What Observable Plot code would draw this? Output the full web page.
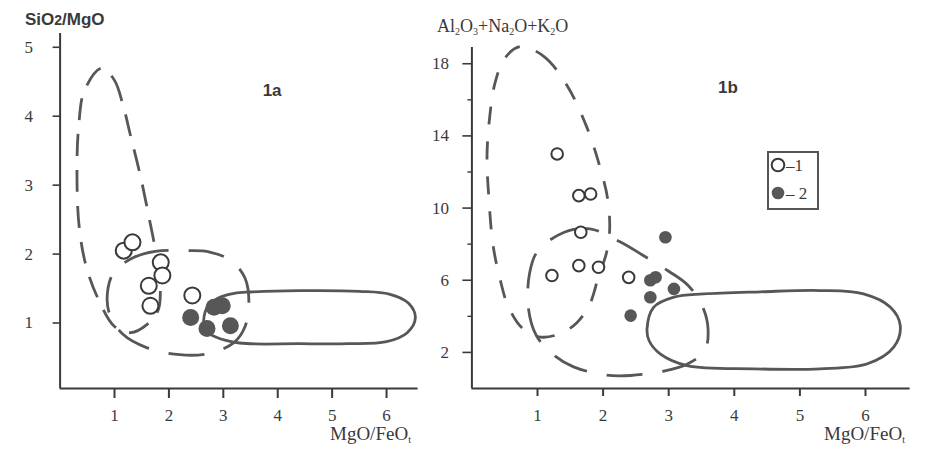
<!DOCTYPE html>
<html>
<head>
<meta charset="utf-8">
<script src="https://cdn.jsdelivr.net/npm/d3@7"></script>
<script src="https://cdn.jsdelivr.net/npm/@observablehq/plot@0.6"></script>
<style>
  html, body { margin: 0; padding: 0; background: #fff; }
  #fig { position: relative; width: 925px; height: 451px; overflow: hidden; background: #fff; }
  #fig > svg { position: absolute; top: 0; }
  #fig svg [aria-label$="tick label"], #fig svg [aria-label$="tick label"] text { font-size: 17px; }
</style>
</head>
<body>
<div id="fig"></div>
<script>
// ---- tick values ----
const xTicks = [1, 2, 3, 4, 5, 6];
const yTicksA = [1, 2, 3, 4, 5];
const yTicksB = [2, 6, 10, 14, 18];
const yMinorB = [4, 8, 12, 16];

// ---- samples, panel 1a: [MgO/FeOt, SiO2/MgO] ----
const group1A = [[1.17, 2.05], [1.33, 2.17], [1.85, 1.88], [1.88, 1.69], [1.63, 1.54], [1.66, 1.25], [2.43, 1.40]];
const group2A = [[2.40, 1.08], [2.83, 1.23], [2.98, 1.25], [2.70, 0.92], [3.13, 0.96]];

// ---- samples, panel 1b: [MgO/FeOt, Al2O3+Na2O+K2O] ----
const group1B = [[1.30, 13.0], [1.63, 10.69], [1.81, 10.78], [1.66, 8.66], [1.63, 6.81], [1.93, 6.72], [1.22, 6.26], [2.39, 6.16]];
const group2B = [[2.95, 8.38], [2.72, 6.00], [2.80, 6.17], [2.72, 5.06], [3.08, 5.52], [2.42, 4.04]];

// ---- composition fields (closed outlines, data units) ----
const tallA = [[0.77, 4.70], [1.00, 4.52], [1.15, 4.18], [1.30, 3.70], [1.48, 3.12], [1.63, 2.55], [1.76, 2.02],
  [1.84, 1.55], [1.80, 1.18], [1.60, 0.98], [1.30, 0.86], [1.00, 0.95], [0.70, 1.35], [0.48, 1.82],
  [0.35, 2.40], [0.31, 3.17], [0.34, 3.84], [0.45, 4.38]];
const midA = [[1.00, 1.75], [1.35, 1.95], [1.75, 2.04], [2.35, 2.05], [2.75, 2.03], [3.15, 1.90], [3.40, 1.65],
  [3.47, 1.28], [3.40, 0.95], [3.20, 0.72], [2.75, 0.56], [2.20, 0.54], [1.60, 0.64], [1.15, 0.84],
  [0.90, 1.15], [0.88, 1.50]];
const solidA = [[2.64, 1.05], [2.72, 1.25], [2.90, 1.36], [3.20, 1.43], [3.50, 1.45], [4.40, 1.47], [5.50, 1.46],
  [6.05, 1.42], [6.40, 1.29], [6.53, 1.08], [6.38, 0.86], [6.00, 0.73], [5.30, 0.70], [4.40, 0.70],
  [3.30, 0.71], [2.85, 0.80], [2.67, 0.90]];

const tallB = [[0.74, 18.95], [1.10, 18.40], [1.45, 16.80], [1.75, 14.50], [1.95, 12.30], [2.07, 10.50], [2.10, 8.80],
  [2.05, 7.50], [1.93, 6.20], [1.80, 4.70], [1.60, 3.65], [1.35, 3.05], [1.05, 2.85], [0.78, 3.30],
  [0.56, 4.50], [0.42, 6.20], [0.32, 8.00], [0.26, 10.50], [0.23, 12.80], [0.27, 15.00], [0.35, 16.90], [0.50, 18.30]];
const midB = [[1.00, 7.60], [1.40, 8.65], [1.80, 8.85], [2.25, 8.15], [2.60, 7.40], [3.00, 6.50], [3.30, 5.70],
  [3.52, 4.50], [3.60, 3.30], [3.55, 2.10], [3.28, 1.35], [2.90, 0.95], [2.42, 0.72], [2.05, 0.74],
  [1.55, 1.20], [1.25, 1.85], [0.98, 2.95], [0.86, 4.50], [0.88, 6.40]];
const solidB = [[2.67, 3.30], [2.77, 4.50], [3.08, 5.06], [3.53, 5.24], [4.40, 5.36], [5.31, 5.43], [5.97, 5.24],
  [6.38, 4.50], [6.53, 3.49], [6.43, 2.29], [6.03, 1.37], [5.31, 1.09], [4.30, 1.09], [3.28, 1.27],
  [2.87, 1.92], [2.70, 2.66]];

const ink = "#3a3a3a";
const fieldInk = "#575757";
const dotFill = "#575757";
const px = d => d[0], py = d => d[1];
const serif = "Liberation Serif, 'Times New Roman', serif";
const sans = "Liberation Sans, Arial, sans-serif";

function panel({width, left, margins, xDomain, yDomain, yTicks, yMinor, tickY, tickX, fields, g1, g2, r, tag, tagPos}) {
  const marks = [
    Plot.ruleX([xDomain[0]], {stroke: ink, strokeWidth: 2}),
    Plot.ruleY([yDomain[0]], {stroke: ink, strokeWidth: 2}),
    Plot.axisY({ticks: yTicks, tickSize: tickY.size, tickPadding: tickY.pad, tickFormat: d => String(d), label: null,
      stroke: ink, fill: ink, strokeWidth: 1.6, fontSize: 17}),
    Plot.axisX({ticks: xTicks, tickSize: tickX.size, tickPadding: tickX.pad, tickFormat: d => String(d), label: null,
      stroke: ink, fill: ink, strokeWidth: 2, fontSize: 17}),
  ];
  if (yMinor) marks.push(Plot.axisY({ticks: yMinor, tickSize: 4, text: null, label: null, stroke: ink, strokeWidth: 1.4}));
  for (const f of fields) {
    marks.push(Plot.line(f.pts, {x: px, y: py, curve: "catmull-rom-closed", stroke: fieldInk,
      strokeWidth: 2.8, strokeDasharray: f.dash, strokeLinecap: "butt"}));
  }
  marks.push(
    Plot.dot(g2, {x: px, y: py, r: r, fill: dotFill, stroke: "none"}),
    Plot.dot(g1, {x: px, y: py, r: r - 0.5, fill: "white", stroke: ink, strokeWidth: 2}),
    Plot.text([tag], {frameAnchor: "top-left", dx: tagPos[0], dy: tagPos[1], fontSize: 17,
      fontWeight: "bold", fontFamily: sans, fill: "#3a3a3a", textAnchor: "middle"})
  );
  const svg = Plot.plot({
    width, height: 451,
    marginLeft: margins[0], marginRight: margins[1], marginTop: margins[2], marginBottom: margins[3],
    x: {domain: xDomain},
    y: {domain: yDomain},
    style: {fontFamily: serif, fontSize: "17px", color: ink, background: "transparent", overflow: "visible"},
    marks
  });
  svg.style.left = left + "px";
  return svg;
}

const fig = document.getElementById("fig");

const svgA = panel({
  width: 420, left: 0, margins: [59.6, 2.4, 33, 63],
  xDomain: [0, 6.58], yDomain: [0.05, 5.2],
  yTicks: yTicksA, yMinor: null,
  tickY: {size: 7, pad: 20}, tickX: {size: 10, pad: 10},
  fields: [{pts: tallA, dash: "22,14"}, {pts: midA, dash: "36,20"}, {pts: solidA, dash: null}],
  g1: group1A, g2: group2A, r: 8.5, tag: "1a", tagPos: [212, 50]
});
fig.appendChild(svgA);

const svgB = panel({
  width: 505, left: 420, margins: [51.4, 15.4, 47, 63],
  xDomain: [0, 6.68], yDomain: [0, 18.9],
  yTicks: yTicksB, yMinor: yMinorB,
  tickY: {size: 9, pad: 14}, tickX: {size: 8, pad: 12},
  fields: [{pts: tallB, dash: "18,17"}, {pts: midB, dash: "36,20"}, {pts: solidB, dash: null}],
  g1: group1B, g2: group2B, r: 6.3, tag: "1b", tagPos: [256, 33]
});
fig.appendChild(svgB);

// ---- axis titles with sub-/inline indices ----
function title(svg, x, y, parts, opts) {
  const t = d3.select(svg).append("text")
    .attr("x", x).attr("y", y)
    .attr("text-anchor", "start")
    .attr("fill", ink)
    .attr("font-family", opts.family)
    .attr("font-size", opts.size)
    .attr("font-weight", opts.weight || "normal");
  let shifted = 0;
  for (const [s, kind] of parts) {
    const sp = t.append("tspan").text(s);
    const want = kind === "sub" ? opts.sub : 0;
    if (want !== shifted) { sp.attr("dy", want - shifted); shifted = want; }
    if (kind === "sub") sp.attr("font-size", opts.subSize);
    else if (kind === "small") sp.attr("font-size", opts.smallSize);
  }
}

title(svgA, 25, 25, [["SiO", ""], ["2", "small"], ["/MgO", ""]],
  {family: sans, size: 17, weight: "bold", smallSize: 14, sub: 0});
title(svgA, 330, 440, [["MgO/FeO", ""], ["t", "sub"]],
  {family: serif, size: 19, subSize: 10, sub: 3});
title(svgB, 17, 32, [["Al", ""], ["2", "sub"], ["O", ""], ["3", "sub"], ["+Na", ""], ["2", "sub"], ["O+K", ""], ["2", "sub"], ["O", ""]],
  {family: serif, size: 18, subSize: 10, sub: 3});
title(svgB, 404, 440, [["MgO/FeO", ""], ["t", "sub"]],
  {family: serif, size: 19, subSize: 10, sub: 3});

// ---- legend ----
const legend = d3.select(fig).append("svg")
  .attr("width", 54).attr("height", 61)
  .style("left", "766px").style("top", "150px");
legend.append("rect").attr("x", 2).attr("y", 2).attr("width", 50).attr("height", 57)
  .attr("fill", "white").attr("stroke", "#555").attr("stroke-width", 2);
const legendItems = [["–1", "white", ink], ["– 2", dotFill, "none"]];
legendItems.forEach(([label, fill, stroke], i) => {
  const cy = 15 + i * 28;
  legend.append("circle").attr("cx", 12).attr("cy", cy).attr("r", 6.3)
    .attr("fill", fill).attr("stroke", stroke).attr("stroke-width", 2);
  legend.append("text").attr("x", 20).attr("y", cy + 5.5).text(label)
    .attr("font-family", serif).attr("font-size", 17).attr("fill", ink);
});
</script>
</body>
</html>
